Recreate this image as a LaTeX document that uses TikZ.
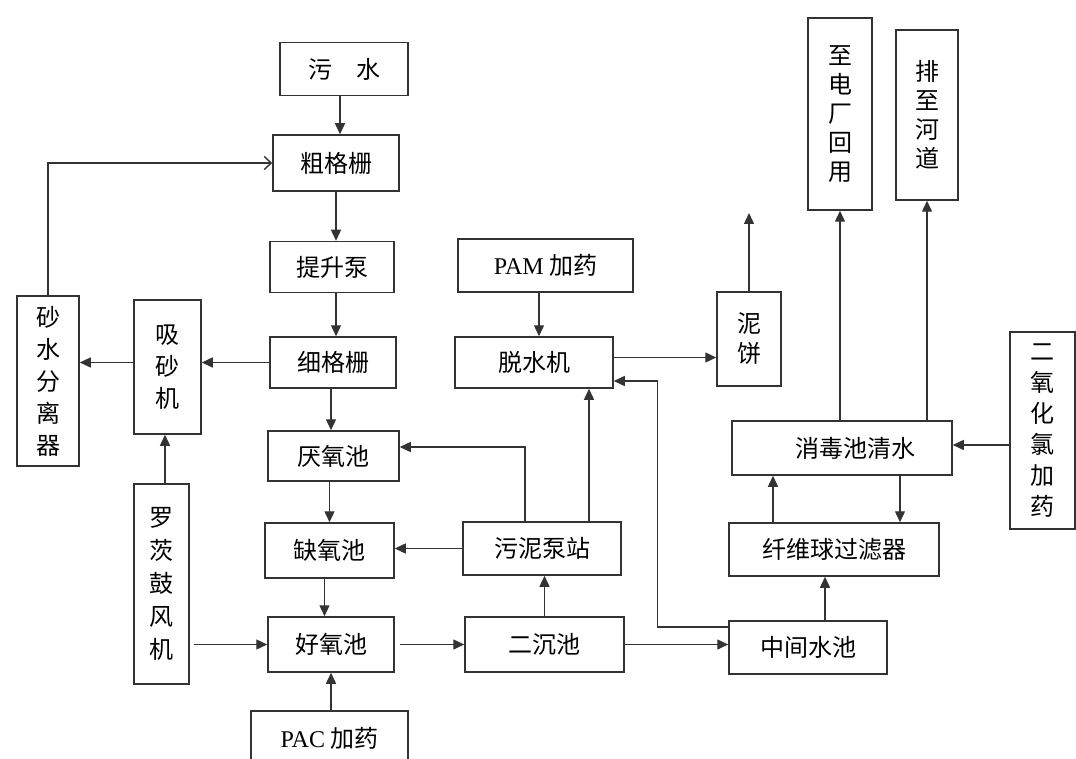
\documentclass[tikz,border=0pt]{standalone}
\usepackage{fontspec}
\setmainfont{Liberation Serif}
\newfontfamily\cjk{Noto Sans CJK SC}
\usetikzlibrary{arrows.meta}

\begin{document}
\begin{tikzpicture}[x=1pt,y=-1pt,
    box/.style={draw=black!80, line width=1.5pt, inner sep=0pt, align=center,
        font=\cjk\fontsize{24}{30}\selectfont},
    arr/.style={draw=black!80, line width=1.4pt, -{Triangle[length=11pt,width=10pt]}},
    retarrow/.style={draw=black!80, line width=1.4pt, -{Straight Barb[length=7pt,width=13pt]}}]
    \useasboundingbox (0,0) rectangle (1076,759);
    % Linha principal
    \node[box, minimum width=128pt, minimum height=53pt] (wushui) at (344,69) {污\quad 水};
    \node[box, minimum width=126pt, minimum height=56pt] (cugeshan) at (336,163) {粗格栅};
    \node[box, minimum width=124pt, minimum height=51pt] (tisheng) at (332,267) {提升泵};
    \node[box, minimum width=126pt, minimum height=51pt] (xigeshan) at (333,362.5) {细格栅};
    \node[box, minimum width=131pt, minimum height=50pt] (yanyang) at (333.5,456) {厌氧池};
    \node[box, minimum width=129pt, minimum height=55pt] (queyang) at (329.5,550.5) {缺氧池};
    \node[box, minimum width=126pt, minimum height=55pt] (haoyang) at (331,644.5) {好氧池};
    \node[box, minimum width=157pt, minimum height=54pt] (pac) at (329.5,738) {{\rmfamily PAC} 加药};
    % Lado esquerdo
    \node[box, minimum width=55pt, minimum height=200pt, font=\cjk\fontsize{24}{33}\selectfont] (luoci) at (161.5,584) {罗\\茨\\鼓\\风\\机};
    \node[box, minimum width=67pt, minimum height=134pt, font=\cjk\fontsize{24}{32}\selectfont] (xisha) at (167.5,367) {吸\\砂\\机};
    \node[box, minimum width=62pt, minimum height=170pt, font=\cjk\fontsize{24}{32}\selectfont] (shashui) at (48,381) {砂\\水\\分\\离\\器};
    % Lodo
    \node[box, minimum width=158pt, minimum height=53pt] (wunibeng) at (542,548.5) {污泥泵站};
    \node[box, minimum width=159pt, minimum height=55pt] (erchen) at (544.5,644.5) {二沉池};
    \node[box, minimum width=175pt, minimum height=53pt] (pam) at (545.5,265.5) {{\rmfamily PAM} 加药};
    \node[box, minimum width=158pt, minimum height=51pt] (tuoshui) at (534,362.5) {脱水机};
    \node[box, minimum width=64pt, minimum height=94pt] (nibing) at (749,339) {泥\\饼};
    \coordinate (nbout) at (749,213);
    % Tratamento final
    \node[box, minimum width=158pt, minimum height=53pt] (zhongjian) at (808,647.5) {中间水池};
    \node[box, minimum width=210pt, minimum height=53pt] (xianwei) at (834,549.5) {纤维球过滤器};
    \node[box, minimum width=220pt, minimum height=54pt] (xiaodu) at (842,448) {\hspace*{26pt}消毒池清水};
    \node[box, minimum width=65pt, minimum height=197pt, font=\cjk\fontsize{24}{31}\selectfont] (eryang) at (1042.5,430.5) {二\\氧\\化\\氯\\加\\药};
    \node[box, minimum width=64pt, minimum height=192pt, font=\cjk\fontsize{24}{29}\selectfont] (zhidian) at (840,114) {至\\电\\厂\\回\\用};
    \node[box, minimum width=62pt, minimum height=170pt, font=\cjk\fontsize{24}{29}\selectfont] (paizhi) at (927,115) {排\\至\\河\\道};
    % Setas
    \draw[arr] ([xshift=-4pt]wushui.south) -- ([xshift=-4pt]wushui.south |- cugeshan.north);
    \draw[arr] (cugeshan.south) -- (cugeshan.south |- tisheng.north);
    \draw[arr] (tisheng.south -| cugeshan) -- (xigeshan.north -| cugeshan);
    \draw[arr] (xigeshan.south -| haoyang) -- (yanyang.north -| haoyang);
    \draw[arr] (yanyang.south -| queyang) -- (queyang.north);
    \draw[arr] ([xshift=-5pt]queyang.south) -- ([xshift=-5pt]queyang.south |- haoyang.north);
    \draw[arr] (pac.north -| haoyang) -- (haoyang.south);
    \draw[arr] (xigeshan.west) -- (xisha.east |- xigeshan.west);
    \draw[arr] (xisha.west |- xigeshan.west) -- (shashui.east |- xigeshan.west);
    \draw[retarrow] (shashui.north) |- (cugeshan.west);
    \draw[arr] ([xshift=3.5pt]luoci.north) -- ([xshift=3.5pt]luoci.north |- xisha.south);
    \draw[arr, shorten <=4pt] (luoci.east |- haoyang.west) -- (haoyang.west);
    \draw[arr, shorten <=5pt] (haoyang.east) -- (erchen.west);
    \draw[arr] (erchen.north) -- (erchen.north |- wunibeng.south);
    \draw[arr] (wunibeng.west) -- (queyang.east |- wunibeng.west);
    \draw[arr] ([xshift=-17pt]wunibeng.north) |- ([yshift=9pt]yanyang.east);
    \draw[arr] ([xshift=47pt]wunibeng.north) -- ([xshift=47pt]wunibeng.north |- tuoshui.south);
    \draw[arr] ([xshift=-6.5pt]pam.south) -- ([xshift=-6.5pt]pam.south |- tuoshui.north);
    \draw[arr] ([yshift=5pt]tuoshui.east) -- ([yshift=5pt]tuoshui.east -| nibing.west);
    \draw[arr] (nibing.north) -- (nbout);
    \draw[arr] (erchen.east) -- (zhongjian.west |- erchen.east);
    \draw[arr] ([yshift=20.5pt]zhongjian.west) -| ([yshift=-18.5pt,xshift=43.5pt]tuoshui.east) -- ([yshift=-18.5pt]tuoshui.east);
    \draw[arr] ([xshift=17pt]zhongjian.north) -- ([xshift=17pt]zhongjian.north |- xianwei.south);
    \draw[arr] ([xshift=-61pt]xianwei.north) -- ([xshift=-61pt]xianwei.north |- xiaodu.south);
    \draw[arr] ([xshift=58pt]xiaodu.south) -- ([xshift=58pt]xiaodu.south |- xianwei.north);
    \draw[arr] ([yshift=3pt]xiaodu.east -| eryang.west) -- ([yshift=3pt]xiaodu.east);
    \draw[arr] (xiaodu.north -| zhidian) -- (zhidian.south);
    \draw[arr] (xiaodu.north -| paizhi) -- (paizhi.south);
\end{tikzpicture}
\end{document}
